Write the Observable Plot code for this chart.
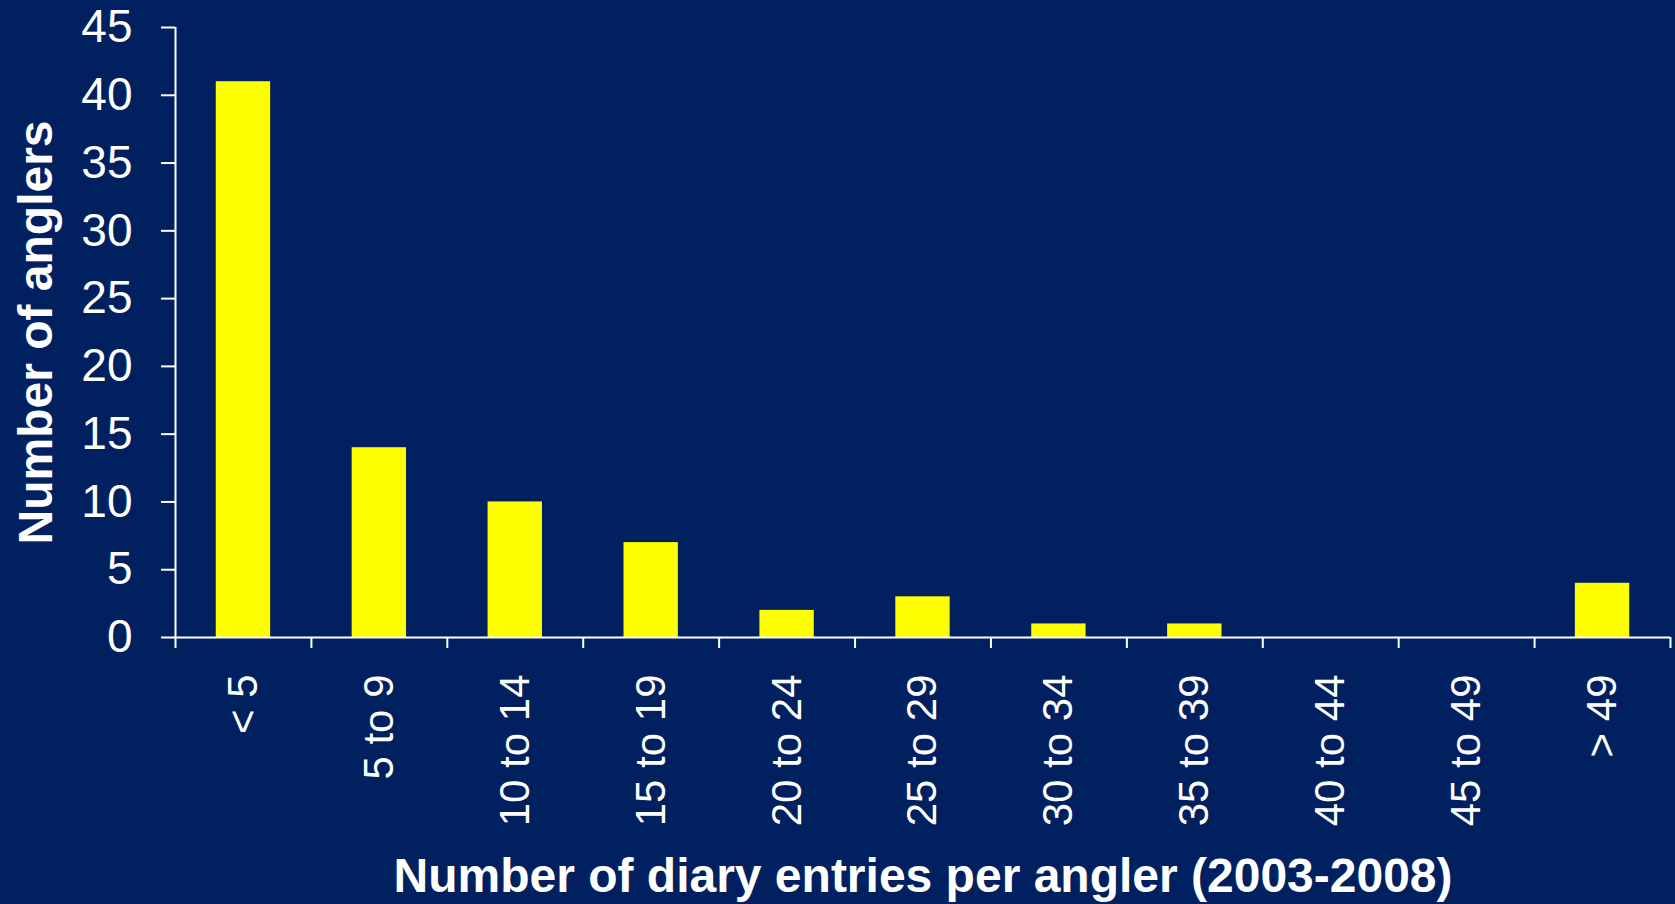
<!DOCTYPE html>
<html>
<head>
<meta charset="utf-8">
<script src="https://cdn.jsdelivr.net/npm/d3@7"></script>
<script src="https://cdn.jsdelivr.net/npm/@observablehq/plot@0.6"></script>
<style>
  html, body { margin: 0; padding: 0; background: #002060; overflow: hidden; }
  #chart svg { display: block; }
</style>
</head>
<body>
<div id="chart"></div>
<script>
const categories = ["< 5", "5 to 9", "10 to 14", "15 to 19", "20 to 24", "25 to 29", "30 to 34", "35 to 39", "40 to 44", "45 to 49", "> 49"];
const anglers = [41, 14, 10, 7, 2, 3, 1, 1, 0, 0, 4];
const yTicks = [0, 5, 10, 15, 20, 25, 30, 35, 40, 45];
const xTitle = "Number of diary entries per angler (2003-2008)";
const yTitle = "Number of anglers";

const data = categories.map((c, i) => ({i, category: c, value: anglers[i]}));
const boundaries = d3.range(0, categories.length + 1);
const centers = categories.map((c, i) => i + 0.5);

const chart = Plot.plot({
  width: 1675,
  height: 904,
  marginLeft: 175,
  marginRight: 5,
  marginTop: 27,
  marginBottom: 267,
  style: {
    background: "#002060",
    color: "white",
    fontFamily: "'Liberation Sans', Arial, Helvetica, sans-serif"
  },
  x: {domain: [0, categories.length]},
  y: {domain: [0, 45]},
  marks: [
    Plot.rectY(data, {x1: d => d.i + 0.3, x2: d => d.i + 0.7, y: "value", fill: "#ffff00"}),
    Plot.ruleX([0], {stroke: "white", strokeWidth: 2}),
    Plot.ruleY([0], {stroke: "white", strokeWidth: 2}),
    Plot.axisY({ticks: yTicks, tickSize: 14, tickPadding: 29, fontSize: 46, color: "white", strokeWidth: 2, label: null, tickFormat: d => String(d)}),
    Plot.axisX({ticks: boundaries, tickSize: 11, tickFormat: () => "", color: "white", strokeWidth: 2, label: null}),
    Plot.axisX({ticks: centers, tickSize: 0, tickPadding: 37, tickRotate: -90, fontSize: 42, color: "white", label: null, tickFormat: d => categories[Math.round(d - 0.5)]}),
    Plot.text([xTitle], {frameAnchor: "bottom", lineAnchor: "bottom", textAnchor: "middle", dy: 254, fontSize: 48, fontWeight: "bold", fill: "white"}),
    Plot.text([yTitle], {frameAnchor: "left", lineAnchor: "bottom", textAnchor: "middle", rotate: -90, dx: -124, fontSize: 48, fontWeight: "bold", fill: "white"})
  ]
});
document.getElementById("chart").appendChild(chart);
</script>
</body>
</html>
